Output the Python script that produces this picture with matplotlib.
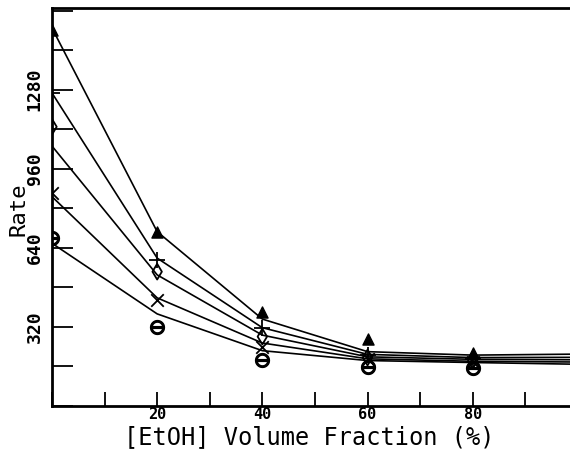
import matplotlib
matplotlib.use("Agg")
import matplotlib.pyplot as plt
from matplotlib.ticker import MultipleLocator

# volume fraction (%)
x_pts = [0, 20, 40, 60, 80]
x_fit = [0, 20, 40, 60, 80, 100]

# measured points
tri = [1522, 705, 381, 269, 213]
plus = [1267, 590, 315, 205, 190]
diam = [1130, 543, 280, 195, 182]
cross = [861, 428, 239, 188, 176]
hexa = [679, 319, 185, 158, 153]

# fitted curves (top to bottom)
fit1 = [1530, 705, 351, 219, 205, 209]
fit2 = [1267, 598, 316, 208, 195, 196]
fit3 = [1052, 530, 286, 198, 188, 186]
fit4 = [847, 437, 254, 190, 180, 177]
fit5 = [658, 372, 223, 183, 175, 168]

mono = "DejaVu Sans Mono"

fig = plt.figure(figsize=(5.7, 4.49), dpi=100)
ax = fig.add_axes([0.0912, 0.0964, 0.9088, 0.8857])

for f in [fit1, fit2, fit3, fit4, fit5]:
    ax.plot(x_fit, f, color="black", lw=1.2)

pts = [
    ax.scatter(x_pts, tri, marker="^", s=64, color="black"),
    ax.scatter(x_pts, plus, marker="+", s=121, linewidths=1.3, color="black"),
    ax.scatter(x_pts, diam, marker="d", s=64, facecolors="none",
               edgecolors="black", linewidths=1.3),
    ax.scatter(x_pts, cross, marker="x", s=81, linewidths=1.3, color="black"),
    ax.scatter(x_pts, hexa, marker="$\\ominus$", s=100, color="black"),
]
# points on the y axis get cut at the spine, like the original
for p in pts:
    p.set_zorder(3)
    p.set_clip_path(ax.patch)

ax.set_xlim(0, 98.5)
ax.set_ylim(0, 1611)

ax.xaxis.set_major_locator(MultipleLocator(20))
ax.xaxis.set_minor_locator(MultipleLocator(10))
ax.yaxis.set_major_locator(MultipleLocator(320))
ax.yaxis.set_minor_locator(MultipleLocator(160))

ax.tick_params(which="both", direction="in", width=1.3, top=False, right=False)
ax.tick_params(axis="x", which="both", length=10, pad=1)
ax.tick_params(axis="y", which="both", length=15, pad=6)

ax.set_xticks([20, 40, 60, 80])
ax.set_xticklabels(["20", "40", "60", "80"], family=mono,
                   fontweight="bold", fontsize=11)
ax.set_yticks([320, 640, 960, 1280])
ax.set_yticklabels(["320", "640", "960", "1280"], family=mono,
                   fontweight="bold", fontsize=13, rotation=90, va="center")

ax.spines["right"].set_visible(False)
for s in ["left", "bottom", "top"]:
    ax.spines[s].set_linewidth(2)

ax.set_xlabel("[EtOH] Volume Fraction (%)", family=mono, fontsize=17)
ax.xaxis.set_label_coords(0.497, -0.048)
ax.set_ylabel("Rate", family=mono, fontsize=16)
ax.yaxis.set_label_coords(-0.046, 0.495)

fig.savefig("out.png", dpi=100)
